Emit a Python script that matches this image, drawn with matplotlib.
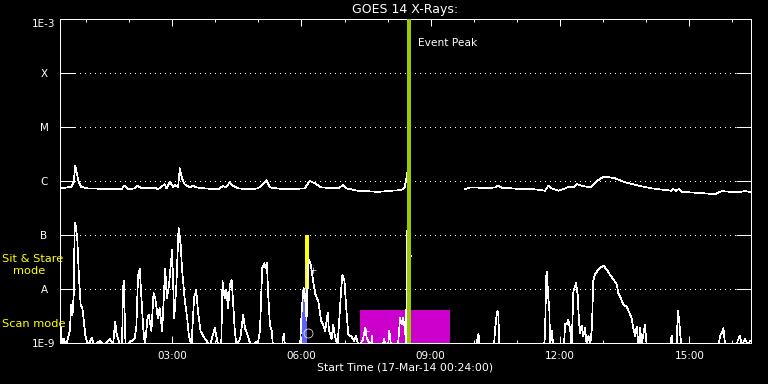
import numpy as np
import matplotlib
matplotlib.use("Agg")
import matplotlib.pyplot as plt
from matplotlib.ticker import FixedLocator, FixedFormatter

TITLE = "GOES 14 X-Rays:"
XLABEL = "Start Time (17-Mar-14 00:24:00)"
T_START, T_END = 0.4, 16.43          # hours of 17-Mar-14

# GOES long channel (1-8 A), flux in units of 1e-7 W/m^2 (nan = data gap)
long_t = [0.42, 0.66, 0.72, 0.755, 0.83, 0.89, 1.05, 1.82, 1.90, 1.98,
          2.12, 2.21, 2.28, 2.60, 2.67, 2.83, 2.87, 2.95, 3.02, 3.06,
          3.14, 3.18, 3.23, 3.29, 3.41, 3.49, 3.56, 3.76, 4.07, 4.18,
          4.25, 4.34, 4.41, 4.53, 4.80, 4.99, 5.11, 5.19, 5.27, 5.61,
          6.08, 6.19, 6.31, 6.46, 6.85, 6.97, 7.04, 7.31, 7.78, 8.09,
          8.32, 8.40, 8.46, 8.49, np.nan,
          9.80, 9.91, 10.07, 10.26, 10.49, 10.57, 10.65, 11.11, 11.42, 11.65,
          11.73, 11.81, 11.96, 12.12, 12.19, 12.31, 12.39, 12.50, 12.70, 12.81,
          12.89, 13.01, 13.08, 13.28, 13.43, 13.59, 13.82, 14.13, 14.44, 14.59,
          14.63, 14.69, 14.75, 14.82, 15.36, 15.60, 15.75, 15.95, 16.14, 16.29,
          16.41]
long_e7 = [7.3, 7.8, 9.7, 19.2, 9.7, 7.8, 7.3, 7.0, 8.2, 7.0,
           7.3, 8.2, 7.3, 7.5, 7.0, 8.7, 7.3, 9.7, 7.8, 8.4,
           7.8, 17.2, 11.2, 8.7, 7.6, 8.2, 7.6, 7.3, 7.0, 8.1,
           7.6, 9.5, 8.2, 7.3, 7.0, 7.3, 8.7, 10.4, 7.6, 7.0,
           7.3, 10.0, 9.1, 7.6, 7.3, 8.4, 7.3, 6.6, 6.3, 6.6,
           6.8, 7.8, 14.9, 7.0, np.nan,
           7.1, 7.6, 7.6, 7.3, 7.6, 8.2, 7.5, 7.1, 7.0, 6.6,
           8.2, 7.3, 6.6, 7.3, 7.8, 7.6, 8.7, 8.2, 7.6, 9.1,
           10.4, 12.0, 12.0, 11.2, 10.0, 9.1, 8.2, 7.3, 6.8, 6.6,
           7.1, 6.5, 7.1, 6.3, 5.9, 5.7, 6.5, 6.3, 6.2, 6.5,
           6.3]

# GOES short channel (0.5-4 A), flux in units of 1e-9 W/m^2 (0.9 = below plot floor)
short_t = [0.41, 0.42, 0.45, 0.49, 0.54, 0.63, 0.66, 0.69, 0.72, 0.74,
           0.76, 0.80, 0.84, 0.88, 0.92, 0.96, 0.99, 1.05, 1.14, 1.19,
           1.33, 1.42, 1.56, 1.63, 1.68, 1.71, 1.75, 1.79, 1.84, 1.86,
           1.88, 1.92, 2.13, 2.17, 2.21, 2.25, 2.29, 2.33, 2.37, 2.43,
           2.46, 2.52, 2.57, 2.61, 2.67, 2.71, 2.77, 2.84, 2.88, 2.93,
           3.00, 3.05, 3.10, 3.15, 3.20, 3.23, 3.29, 3.35, 3.39, 3.45,
           3.51, 3.56, 3.60, 3.66, 3.76, 3.88, 3.99, 4.03, 4.07, 4.14,
           4.17, 4.22, 4.26, 4.30, 4.34, 4.38, 4.41, 4.45, 4.49, 4.58,
           4.65, 4.69, 4.74, 4.79, 4.83, 5.00, 5.04, 5.09, 5.14, 5.17,
           5.20, 5.23, 5.27, 5.31, 5.34, 5.55, 5.59, 5.62, 5.97, 6.01,
           6.05, 6.08, 6.12, 6.15, 6.17, 6.22, 6.28, 6.32, 6.39, 6.46,
           6.50, 6.55, 6.61, 6.64, 6.70, 6.74, 6.78, 6.84, 6.92, 6.95,
           7.00, 7.04, 7.09, 7.15, 7.22, 7.27, 7.32, 7.42, 7.48, 7.52,
           7.62, 7.63, 7.66, 7.89, 7.92, 7.95, 8.01, 8.04, 8.08, 8.24,
           8.29, 8.33, 8.36, 8.40, 8.43, 8.445, 8.47, 8.50, 8.53, 8.535,
           np.nan,
           10.05, 10.11, 10.12, 10.47, 10.49, 10.53, 10.55, 10.57, 10.59, 11.63,
           11.65, 11.68, 11.70, 11.72, 11.75, 11.77, 11.81, 11.84, 12.09, 12.12,
           12.15, 12.19, 12.23, 12.27, 12.31, 12.35, 12.37, 12.41, 12.42, 12.46,
           12.50, 12.54, 12.58, 12.62, 12.66, 12.70, 12.74, 12.77, 12.81, 12.89,
           12.94, 13.01, 13.08, 13.16, 13.24, 13.32, 13.35, 13.41, 13.47, 13.55,
           13.59, 13.66, 13.70, 13.74, 13.78, 13.82, 13.86, 13.89, 13.97, 14.01,
           14.55, 14.59, 14.61, 14.71, 14.73, 14.76, 14.81, 15.67, 15.72, 15.75,
           15.79, 15.83, 16.10, 16.12, 16.17, 16.22, 16.29, 16.36, 16.41]
short_e9 = [0.9, 1.9, 0.9, 1.2, 0.9, 1.7, 5.1, 3.3, 8.4, 167,
            155, 88, 16, 5.1, 4.4, 2.2, 1.35, 0.9, 1.24, 0.9,
            1.1, 0.9, 1.2, 0.9, 2.5, 1.5, 1.2, 0.9, 0.9, 9.7,
            14, 0.9, 1.2, 1.9, 17, 24, 6.8, 1.9, 0.9, 2.9,
            3.3, 1.67, 8.4, 6.8, 2.9, 4.4, 1.67, 24, 6.8, 12,
            53, 2.9, 12, 135, 66, 24, 6.8, 2.9, 1.35, 0.9,
            6.8, 9.7, 3.9, 1.67, 1.2, 0.9, 1.9, 1.3, 0.9, 0.9,
            14, 6.8, 9.7, 4.4, 12, 15, 6.8, 1.9, 0.9, 1.2,
            3.3, 1.9, 1.5, 1.1, 0.9, 1.1, 1.75, 24, 30, 24,
            30, 7.8, 2.15, 1.67, 0.9, 0.9, 1.5, 0.9, 0.9, 4.4,
            10.5, 8.1, 2.7, 22.5, 35, 28, 13, 8.1, 6.0, 2.55,
            2.2, 1.67, 3.6, 1.7, 1.2, 2.15, 1.3, 0.9, 9.1, 18,
            14, 4.4, 1.4, 1.35, 1.1, 1.35, 0.9, 1.1, 1.9, 1.2,
            0.9, 1.35, 0.9, 0.9, 1.2, 0.9, 0.9, 1.67, 0.9, 0.9,
            2.9, 2.2, 2.9, 1.9, 0.9, 117, 125, 50, 53, 41,
            np.nan,
            0.9, 1.5, 0.9, 0.9, 1.7, 3.3, 3.9, 3.2, 0.9, 0.9,
            1.3, 17, 21, 7.8, 4.7, 0.9, 1.7, 0.9, 0.9, 2.3,
            2.2, 2.7, 1.9, 0.9, 9.1, 11.2, 12.9, 7.8, 4.7, 1.5,
            2.1, 1.35, 1.9, 0.9, 1.35, 0.9, 1.9, 14, 18.4, 23,
            25, 27, 23, 18.4, 15, 12, 8.4, 6.8, 5.1, 4.7,
            3.9, 2.9, 1.9, 1.35, 2.0, 0.9, 1.9, 0.9, 2.15, 0.9,
            0.9, 1.35, 0.9, 0.9, 3.9, 2.9, 0.9, 0.9, 1.4, 1.5,
            1.9, 0.9, 0.9, 1.1, 1.35, 0.9, 1.2, 0.9, 1.1]

# annotations
EVENT_PEAK_T = 8.50
SIT_STARE_T = 6.13          # yellow marker, A..B level
SIT_STARE_RANGE = (1e-8, 1e-7)
BLUE_T = 6.07               # blue marker, floor..A level
BLUE_RANGE = (1e-9, 1e-8)
SCAN_SPAN = (7.36, 9.45)    # magenta scan-mode box
SCAN_TOP = 4.1e-9
circle_t, circle_f = [6.16], [1.55e-9]
plus_t, plus_f = [6.27, 7.49], [2.25e-8, 1.67e-9]

LEVELS = [1e-9, 1e-8, 1e-7, 1e-6, 1e-5, 1e-4, 1e-3]
LEVEL_LABELS = ["1E-9", "A", "B", "C", "M", "X", "1E-3"]
MAJOR_HOURS = [3, 6, 9, 12, 15]
MINOR_HOURS = list(range(1, 17))

LW = 0.72     # one pixel at 100 dpi
CLW = 0.5     # curve width (renders as a single aliased pixel)

W, H = 768, 384
fig = plt.figure(figsize=(W / 100, H / 100), dpi=100, facecolor="black")
ax = fig.add_axes([60 / W, 41 / H, 691 / W, 324 / H])
ax.set_facecolor("black")
ax.set_yscale("log")
ax.set_xlim(T_START, T_END)
ax.set_ylim(LEVELS[0], LEVELS[-1])

# grid
for lv in LEVELS[1:-1]:
    ax.axhline(lv, color="white", lw=LW, ls=(0, (1, 5)), zorder=1, antialiased=False)

# scan box & markers
ax.fill_between(SCAN_SPAN, LEVELS[0], SCAN_TOP, color="#cc00cc", lw=0, zorder=2)
ax.vlines(BLUE_T, *BLUE_RANGE, color="#6060ff", lw=2.2, zorder=2, antialiased=False)
ax.vlines(SIT_STARE_T, *SIT_STARE_RANGE, color="#ffff00", lw=1.5, zorder=2, antialiased=False)

lt = np.array(long_t, dtype=float)
lf = np.array(long_e7, dtype=float) * 1e-7
st = np.array(short_t, dtype=float)
sf = np.array(short_e9, dtype=float) * 1e-9
ax.plot(lt, lf, color="white", lw=CLW, zorder=3, antialiased=False)
ax.plot(st, sf, color="white", lw=CLW, zorder=3, antialiased=False)
ax.plot(circle_t, circle_f, ls="none", marker="o", ms=6.5, mfc="none", mec="white", mew=CLW, zorder=4)
ax.plot(plus_t, plus_f, ls="none", marker="+", ms=5, mec="white", mew=CLW, zorder=4)

ax.axvline(EVENT_PEAK_T, color="#99cc00", lw=1.5, zorder=5, antialiased=False)
ax.text(418, H - 43, "Event Peak", transform=None, color="white", fontsize=7.7, va="center", ha="left")

# axes styling
for sp in ax.spines.values():
    sp.set_color("white")
    sp.set_linewidth(LW)
    sp.set_antialiased(False)
ax.yaxis.set_major_locator(FixedLocator(LEVELS))
ax.yaxis.set_major_formatter(FixedFormatter(LEVEL_LABELS))
ax.yaxis.set_minor_locator(FixedLocator([]))
ax.tick_params(axis="y", which="major", direction="in", length=10.8, width=LW, color="white",
               left=True, right=True, labelcolor="white", labelsize=7.5, pad=11.5)
for lab in ax.get_yticklabels():
    lab.set_horizontalalignment("center")
ax.get_yticklabels()[-1].set_verticalalignment("top")

ax.xaxis.set_major_locator(FixedLocator(MAJOR_HOURS))
ax.xaxis.set_major_formatter(FixedFormatter(["%02d:00" % h for h in MAJOR_HOURS]))
ax.xaxis.set_minor_locator(FixedLocator(MINOR_HOURS))
ax.tick_params(axis="x", which="major", direction="in", length=4.8, width=LW, color="white",
               bottom=True, top=True, labelcolor="white", labelsize=7.5, pad=6)
ax.tick_params(axis="x", which="minor", direction="in", length=2.4, width=LW, color="white",
               bottom=True, top=True)

fig.text(405.5 / W, 1 - 9.5 / H, TITLE, color="white", fontsize=9, ha="center", va="center")
fig.text(405.5 / W, 1 - 368 / H, XLABEL, color="white", fontsize=7.8, ha="center", va="center")
fig.text(2 / W, 1 - 259 / H, "Sit & Stare", color="#ffff00", fontsize=8.2, ha="left", va="center")
fig.text(12.7 / W, 1 - 271 / H, "mode", color="#ffff00", fontsize=8.2, ha="left", va="center")
fig.text(1.7 / W, 1 - 324 / H, "Scan mode", color="#ffff00", fontsize=8.2, ha="left", va="center")

fig.savefig("out.png", dpi=100, facecolor="black")
